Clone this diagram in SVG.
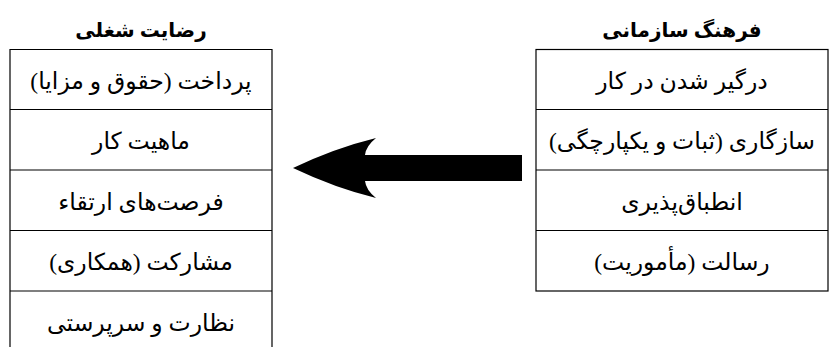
<svg xmlns="http://www.w3.org/2000/svg" width="830" height="347" viewBox="0 0 830 347">
<style>
.cell{fill:#fff;stroke:#000;stroke-width:1.2}
.t{font-family:"Liberation Serif","DejaVu Serif","DejaVu Sans",serif;font-size:23.5px;fill:#000;text-anchor:middle;direction:rtl}
.h{font-family:"Liberation Serif","DejaVu Serif","DejaVu Sans",serif;font-size:20px;font-weight:bold;fill:#000;text-anchor:middle;direction:rtl}
</style>
<rect width="830" height="347" fill="#fff"/>
<g id="job-satisfaction">
<text class="h" x="141" y="37">رضایت شغلی</text>
<path class="cell" d="M10,347 V49.5 H272 V347 M10,109.5 H272 M10,170 H272 M10,230.5 H272 M10,291 H272" fill="none"/>
<text class="t" x="141" y="89">پرداخت (حقوق و مزایا)</text>
<text class="t" x="141" y="149">ماهیت کار</text>
<text class="t" x="141" y="210">فرصت‌های ارتقاء</text>
<text class="t" x="141" y="270">مشارکت (همکاری)</text>
<text class="t" x="141" y="331">نظارت و سرپرستی</text>
</g>
<g id="org-culture">
<text class="h" x="682" y="37">فرهنگ سازمانی</text>
<rect class="cell" x="536" y="49.5" width="292" height="241.5"/>
<path class="cell" d="M536,109.5 H828 M536,170 H828 M536,230.5 H828" fill="none"/>
<text class="t" x="682" y="89">درگیر شدن در کار</text>
<text class="t" x="682" y="149">سازگاری (ثبات و یکپارچگی)</text>
<text class="t" x="682" y="210">انطباق‌پذیری</text>
<text class="t" x="682" y="270">رسالت (مأموریت)</text>
</g>
<g id="connectors">
<path d="M293,168 Q335,148 376,138 Q366,146 365,155 H522 V181 H365 Q366,190 376,198 Q335,188 293,168 Z" fill="#000"/>
</g>
</svg>
